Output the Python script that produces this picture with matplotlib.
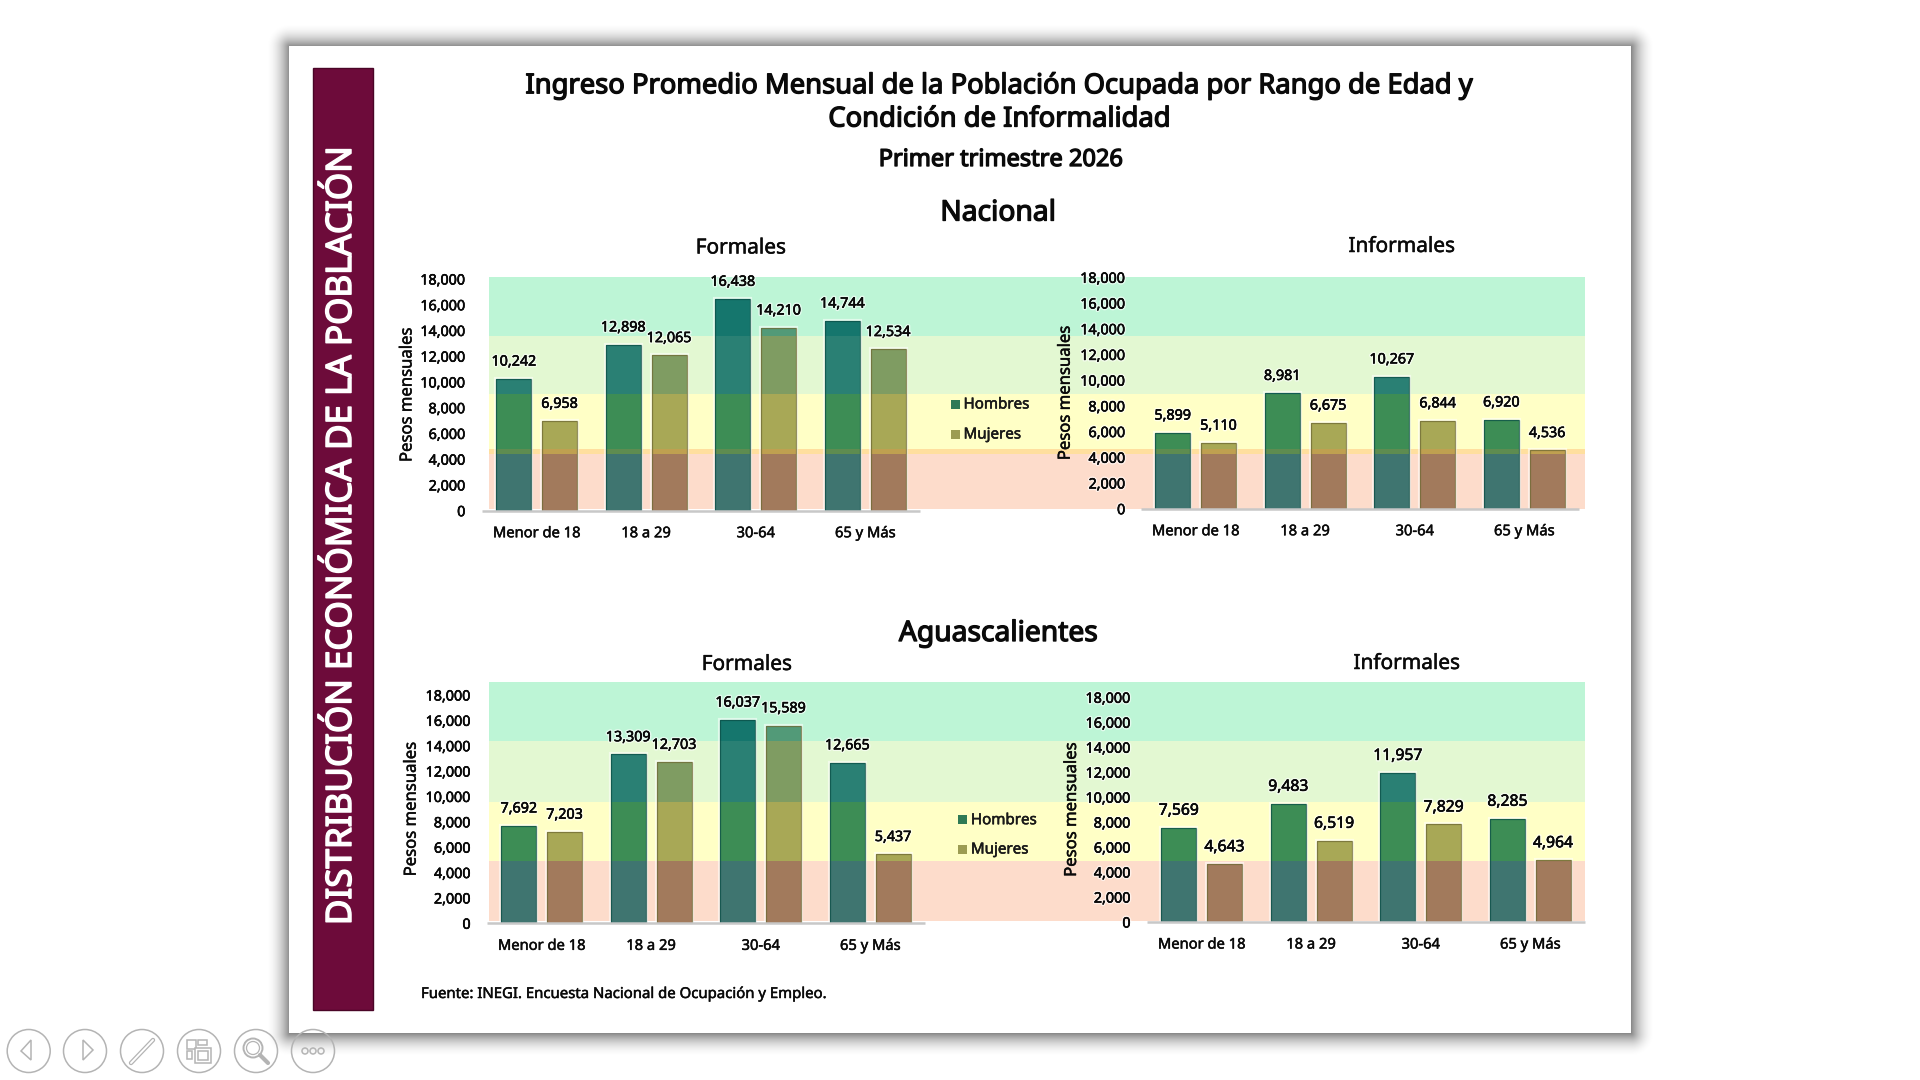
"""Ingreso promedio mensual por rango de edad y condicion de informalidad (slide capture)."""
import numpy as np
import matplotlib
matplotlib.use("Agg")
import matplotlib.pyplot as plt
import matplotlib.patheffects as pe
from matplotlib.patches import Rectangle, Circle, Polygon

plt.rcParams["font.family"] = ["Noto Sans", "DejaVu Sans"]

# ── Data ─────────────────────────────────────────────
CATEGORIES = ["Menor de 18", "18 a 29", "30-64", "65 y Más"]
YTICKS = [0, 2000, 4000, 6000, 8000, 10000, 12000, 14000, 16000, 18000]

NAC_FORMAL_H = [10242, 12898, 16438, 14744]
NAC_FORMAL_M = [6958, 12065, 14210, 12534]
NAC_INFORMAL_H = [5899, 8981, 10267, 6920]
NAC_INFORMAL_M = [5110, 6675, 6844, 4536]
AGS_FORMAL_H = [7692, 13309, 16037, 12665]
AGS_FORMAL_M = [7203, 12703, 15589, 5437]
AGS_INFORMAL_H = [7569, 9483, 11957, 8285]
AGS_INFORMAL_M = [4643, 6519, 7829, 4964]

# ── Style ────────────────────────────────────────────
MAROON = "#6D0B3A"
INK = "#0A0A0A"
# band -> (background, hombres bar, mujeres bar)
BAND_COLORS = {
    "green": ("#BDF5D6", "#15766D", "#529A78"),
    "light": ("#E3F8D2", "#2A8074", "#7F9C62"),
    "yellow": ("#FFFFC6", "#3D8D55", "#A8A856"),
    "strip": ("#FFDF9E", "#5E8C50", "#BFA050"),
    "pink": ("#FDDCCB", "#3F7570", "#A27A5C"),
}
W, H = 1920, 1080
# installed Noto Sans has no bold face here, so heavier text is stroked
GLOW = [pe.withStroke(linewidth=2.4, foreground=(1, 1, 1, 0.6)),
        pe.withStroke(linewidth=0.35, foreground=INK)]
SEMI = [pe.withStroke(linewidth=0.35, foreground=INK)]
BOLD = [pe.withStroke(linewidth=0.95, foreground=INK)]
BOLD_WHITE = [pe.withStroke(linewidth=1.1, foreground="white")]

fig = plt.figure(figsize=(W / 100, H / 100), dpi=100, facecolor="white")
page = fig.add_axes([0, 0, 1, 1])
page.set_xlim(0, W)
page.set_ylim(H, 0)
page.axis("off")

# soft shadow round the slide
sl, st, sr, sb = 289, 46, 1631, 1033
yy, xx = np.mgrid[0:H, 0:W]
dx = np.maximum(np.maximum(sl - xx, xx - sr), 0)
dy = np.maximum(np.maximum(st - yy, yy - sb), 0)
dist = np.hypot(dx, dy)
shadow = np.zeros((H, W, 4))
shadow[..., 3] = 0.46 * np.clip(1 - dist / 24, 0, 1) ** 2
page.imshow(shadow, extent=(0, W, H, 0), aspect="auto", zorder=0)
page.set_xlim(0, W)
page.set_ylim(H, 0)
page.add_patch(Rectangle((sl, st), sr - sl, sb - st, fc="white", ec="none", zorder=1))

# maroon side bar
page.add_patch(Rectangle((313, 67.5), 59.5, 942.5, fc=MAROON, ec="#4A0527", lw=1.0, zorder=2))
page.text(342, 536, "DISTRIBUCIÓN ECONÓMICA DE LA POBLACIÓN", rotation=90, color="white",
          fontsize=25.2, ha="center", va="center", zorder=3, path_effects=BOLD_WHITE)

# titles
page.text(1000, 86, "Ingreso Promedio Mensual de la Población Ocupada por Rango de Edad y",
          fontsize=19.7, ha="center", va="center", color=INK, zorder=3, path_effects=BOLD)
page.text(1000, 119.5, "Condición de Informalidad",
          fontsize=19.7, ha="center", va="center", color=INK, zorder=3, path_effects=BOLD)
page.text(1001, 160, "Primer trimestre 2026",
          fontsize=17, ha="center", va="center", color=INK, zorder=3, path_effects=BOLD)
page.text(998, 213, "Nacional", fontsize=20.3, ha="center", va="center",
          color=INK, zorder=3, path_effects=BOLD)
page.text(998, 633.5, "Aguascalientes", fontsize=20.3, ha="center", va="center",
          color=INK, zorder=3, path_effects=BOLD)
for x, y, s in [(741, 248, "Formales"), (1402, 246.5, "Informales"),
                (747, 664.5, "Formales"), (1407, 663.5, "Informales")]:
    page.text(x, y, s, fontsize=15, ha="center", va="center", color=INK, zorder=3, path_effects=SEMI)
page.text(421, 994.5, "Fuente: INEGI. Encuesta Nacional de Ocupación y Empleo.", fontsize=10.75,
          ha="left", va="center", color=INK, zorder=3, path_effects=SEMI)

# background bands, pixel rows taken from the slide
BANDS_NAC = [("green", 277, 336), ("light", 336, 394), ("yellow", 394, 449),
             ("strip", 449, 453.7), ("pink", 453.7, 508.7)]
BANDS_AGS = [("green", 682, 741), ("light", 741, 802), ("yellow", 802, 860.7),
             ("pink", 860.7, 921)]
for bands in (BANDS_NAC, BANDS_AGS):
    for name, y0, y1 in bands:
        page.add_patch(Rectangle((489, y0), 1585 - 489, y1 - y0, fc=BAND_COLORS[name][0],
                                 ec="none", zorder=2))


def add_panel(left, right, top, bottom, tick_right, label_x, hombres, mujeres, bands, lab_size):
    ax = fig.add_axes([left / W, 1 - bottom / H, (right - left) / W, (bottom - top) / H])
    ax.patch.set_alpha(0)
    ax.set_xlim(-0.5, 3.5)
    ax.set_ylim(0, 18000)
    x = np.arange(len(CATEGORIES))
    offset, width = 0.209, 0.322

    for vals, sign, col_idx, edge in [(hombres, -1, 1, "#0B4F47"), (mujeres, 1, 2, "#6F6A35")]:
        xs = x + sign * offset
        ax.bar(xs, vals, width, color="none", edgecolor=(1, 1, 1, 0.55), linewidth=3, zorder=2)
        for i, (name, y0, y1) in enumerate(bands):
            # the last band runs down to the axis line
            y_end = y1 + 4 if i == len(bands) - 1 else y1
            clip = Rectangle((0, y0), W, y_end - y0, transform=page.transData)
            for bar in ax.bar(xs, vals, width, color=BAND_COLORS[name][col_idx], zorder=3):
                bar.set_clip_path(clip)
        ax.bar(xs, vals, width, color="none", edgecolor=edge, linewidth=0.9, alpha=0.75, zorder=4)
        for xi, v in zip(xs, vals):
            ax.annotate(f"{v:,}", (xi, v), xytext=(0, 12.1), textcoords="offset points",
                        ha="center", va="center", fontsize=lab_size, color=INK, zorder=5,
                        path_effects=GLOW)

    for s in ("top", "right", "left"):
        ax.spines[s].set_visible(False)
    ax.spines["bottom"].set_color("#C8C8C8")
    ax.spines["bottom"].set_linewidth(1.8)
    ax.spines["bottom"].set_capstyle("butt")
    ax.spines["bottom"].set_zorder(6)
    ax.set_xticks(x, CATEGORIES)
    ax.set_yticks(YTICKS, [f"{v:,}" for v in YTICKS])
    ax.tick_params(axis="x", length=0, pad=11.2, labelsize=10.6, labelcolor=INK)
    ax.tick_params(axis="y", length=0, pad=(left - tick_right) * 0.72, labelsize=10.3, labelcolor=INK)
    for t in ax.get_yticklabels():
        t.set_path_effects(GLOW)
    for t in ax.get_xticklabels():
        t.set_path_effects(SEMI)
    ax.set_ylabel("Pesos mensuales", fontsize=12, color=INK, va="center", path_effects=SEMI)
    ax.yaxis.set_label_coords((label_x - left) / (right - left), 0.5)
    return ax


add_panel(482, 920, 279, 510.7, 465.4, 407.5, NAC_FORMAL_H, NAC_FORMAL_M, BANDS_NAC, 10.3)
add_panel(1141, 1579, 277.3, 508.7, 1125.3, 1065.7, NAC_INFORMAL_H, NAC_INFORMAL_M, BANDS_NAC, 10.3)
add_panel(487, 925, 695, 923.3, 470.7, 411.7, AGS_FORMAL_H, AGS_FORMAL_M, BANDS_AGS, 10.3)
add_panel(1147, 1585, 697.3, 922, 1130.6, 1072, AGS_INFORMAL_H, AGS_INFORMAL_M, BANDS_AGS, 11.3)

# legends
for sq_x, y_h, y_m in [(955, 404, 434), (962.4, 819.7, 849)]:
    for y, label, col in [(y_h, "Hombres", "#2E7A55"), (y_m, "Mujeres", "#9C9C52")]:
        page.add_patch(Rectangle((sq_x - 4.5, y - 4.5), 9, 9, fc=col, ec="none", zorder=4))
        page.text(sq_x + 8.5, y + 1, label, fontsize=10.9, ha="left", va="center", color="#1A1A1A",
                  zorder=4, path_effects=SEMI)

# slide show toolbar
GRAY = "#B4B4B4"
ICON_Y = 1051
for cx in (28.7, 85, 142, 199, 256, 313):
    page.add_patch(Circle((cx, ICON_Y), 21.5, fc="none", ec=GRAY, lw=1.1, zorder=5))
page.add_patch(Polygon([(31, 1040), (21, 1051), (31, 1060)], closed=True, fc="none", ec=GRAY, lw=1.1, zorder=5))
page.add_patch(Polygon([(83, 1040), (93, 1050), (83, 1060)], closed=True, fc="none", ec=GRAY, lw=1.1, zorder=5))
page.plot([131, 153], [1063, 1040], color=GRAY, lw=3.2, solid_capstyle="round", zorder=5)
page.plot([131, 153], [1063, 1040], color="white", lw=1.4, solid_capstyle="round", zorder=5)
for rx, ry, rw, rh in [(187, 1040, 9, 9), (198, 1040, 9, 5), (187, 1051, 5, 8)]:
    page.add_patch(Rectangle((rx, ry), rw, rh, fc="none", ec=GRAY, lw=1.1, zorder=5))
page.add_patch(Rectangle((195, 1048), 16, 15, fc="white", ec=GRAY, lw=1.1, zorder=5))
page.add_patch(Rectangle((198, 1051), 10, 9, fc="none", ec=GRAY, lw=1.1, zorder=5))
page.add_patch(Circle((253, 1048), 9.5, fc="none", ec=GRAY, lw=1.4, zorder=5))
page.add_patch(Circle((253, 1048), 6.5, fc="none", ec=GRAY, lw=0.9, zorder=5))
page.plot([260, 268], [1055, 1063], color=GRAY, lw=3, solid_capstyle="round", zorder=5)
for cx in (305, 313, 321):
    page.add_patch(Circle((cx, ICON_Y), 3, fc="none", ec=GRAY, lw=1.1, zorder=5))

fig.savefig("out.png", dpi=100)
